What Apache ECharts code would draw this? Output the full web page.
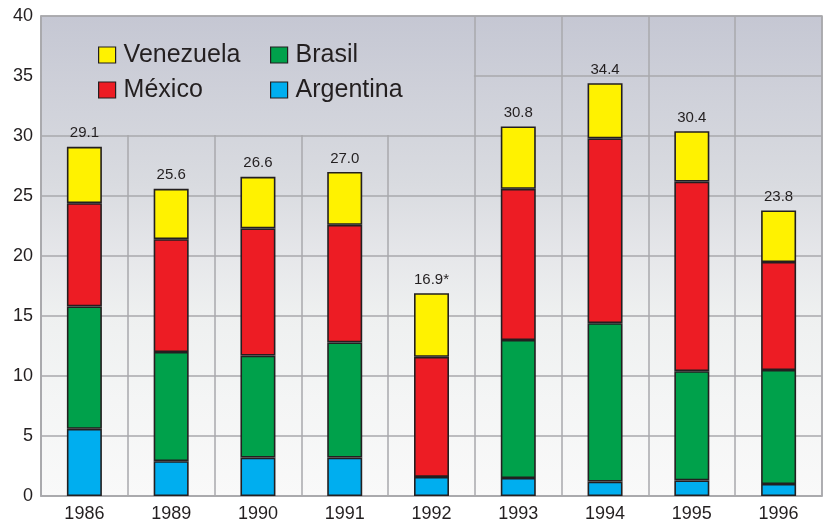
<!DOCTYPE html>
<html>
<head>
<meta charset="utf-8">
<title>Inversión por país</title>
<script src="https://cdn.jsdelivr.net/npm/echarts@6/dist/echarts.min.js"></script>
<style>
  html, body { margin: 0; padding: 0; background: #ffffff; }
  #chart { width: 830px; height: 523px; }
</style>
</head>
<body>
<div id="chart"></div>
<script>
// Years on the category axis
const years = ['1986', '1989', '1990', '1991', '1992', '1993', '1994', '1995', '1996'];

// Stacked values per country (bottom to top)
const argentina = [5.6, 2.9, 3.2, 3.2, 1.6, 1.5, 1.2, 1.3, 1.0];
const brasil    = [10.2, 9.1, 8.5, 9.6, 0, 11.5, 13.2, 9.1, 9.5];
const mexico    = [8.6, 9.4, 10.6, 9.8, 10.0, 12.6, 15.4, 15.8, 9.0];
const venezuela = [4.7, 4.2, 4.3, 4.4, 5.3, 5.2, 4.6, 4.2, 4.3];

// Footnote marks appended to the total above each bar
const totalNotes = ['', '', '', '', '*', '', '', '', ''];

// Value axis ticks
const yTicks = [0, 5, 10, 15, 20, 25, 30, 35, 40];

const totals = years.map((_, i) =>
  Math.round((argentina[i] + brasil[i] + mexico[i] + venezuela[i]) * 10) / 10);

const FONT = '"Liberation Sans", Arial, sans-serif';
const INK = '#231f20';
const GRIDLINE = '#a9a9ac';

const W = 830, H = 523;
const GRID = { left: 41, right: 8, top: 16, bottom: 27 };

// Plot background: grey-blue sky at the top fading to near white at the base.
// Built in canvas coordinates so the legend panel can reuse the exact same fill.
function skyGradient() {
  return new echarts.graphic.LinearGradient(0, GRID.top, 0, H - GRID.bottom, [
    { offset: 0.00, color: '#c5c7d3' },
    { offset: 0.15, color: '#ced0d9' },
    { offset: 0.35, color: '#d9dbe0' },
    { offset: 0.50, color: '#e6e7ea' },
    { offset: 0.62, color: '#eef0f0' },
    { offset: 0.80, color: '#f4f5f5' },
    { offset: 1.00, color: '#f9f9f9' }
  ], true);
}

const chart = echarts.init(document.getElementById('chart'), null, { renderer: 'canvas' });

function barSeries(name, data, color, extra) {
  return Object.assign({
    name: name,
    type: 'bar',
    stack: 'total',
    data: data,
    barWidth: 35,
    itemStyle: { color: color, borderColor: INK, borderWidth: 1.6, borderType: 'solid', opacity: 1 },
    emphasis: { disabled: true }
  }, extra || {});
}

const legendCommon = {
  orient: 'vertical',
  icon: 'rect',
  padding: 0,
  itemWidth: 17,
  itemHeight: 16,
  itemGap: 9,
  selectedMode: false,
  itemStyle: { borderColor: INK, borderWidth: 1.2 },
  textStyle: { fontFamily: FONT, fontSize: 25, color: INK, lineHeight: 26, padding: [0, 0, 0, 3] }
};

const option = {
  backgroundColor: '#ffffff',
  animation: false,
  grid: {
    left: GRID.left, right: GRID.right, top: GRID.top, bottom: GRID.bottom,
    show: true,
    backgroundColor: skyGradient(),
    borderColor: GRIDLINE,
    borderWidth: 1.5
  },
  legend: [
    Object.assign({ left: 98, top: 42, data: ['Venezuela', 'México'] }, legendCommon),
    Object.assign({ left: 270, top: 42, data: ['Brasil', 'Argentina'] }, legendCommon)
  ],
  xAxis: {
    type: 'category',
    data: years,
    boundaryGap: true,
    axisLine: { show: true, lineStyle: { color: GRIDLINE, width: 1.5 } },
    axisTick: { show: false },
    axisLabel: { fontFamily: FONT, fontSize: 18, color: INK, margin: 9 },
    splitLine: { show: true, lineStyle: { color: GRIDLINE, width: 1.5 } }
  },
  yAxis: {
    type: 'value',
    min: 0,
    max: 40,
    interval: 5,
    axisLine: { show: true, lineStyle: { color: GRIDLINE, width: 1.5 } },
    axisTick: { show: false },
    axisLabel: {
      fontFamily: FONT, fontSize: 18, color: INK, margin: 8,
      formatter: v => (yTicks.indexOf(v) >= 0 ? String(v) : '')
    },
    splitLine: { show: true, lineStyle: { color: GRIDLINE, width: 1.5 } }
  },
  series: [
    barSeries('Argentina', argentina, '#00aeef'),
    barSeries('Brasil', brasil, '#00a14b'),
    barSeries('México', mexico, '#ed1c24'),
    barSeries('Venezuela', venezuela, '#fff200', {
      label: {
        show: true,
        position: 'top',
        distance: 6,
        fontFamily: FONT,
        fontSize: 15,
        color: INK,
        formatter: p => totals[p.dataIndex].toFixed(1) + totalNotes[p.dataIndex]
      }
    })
  ]
};

chart.setOption(option);

// Clear panel behind the legend: the upper band of the first five years carries no grid
function drawLegendPanel() {
  const x0 = chart.convertToPixel({ xAxisIndex: 0 }, years[0]);
  const x1 = chart.convertToPixel({ xAxisIndex: 0 }, years[1]);
  const step = x1 - x0;
  const left = x0 - step / 2 + 1;
  const right = chart.convertToPixel({ xAxisIndex: 0 }, years[4]) + step / 2 - 1;
  const top = chart.convertToPixel({ yAxisIndex: 0 }, 40) + 1;
  const bottom = chart.convertToPixel({ yAxisIndex: 0 }, 30) - 1;
  chart.setOption({
    graphic: [{
      type: 'rect',
      z: 1,
      silent: true,
      shape: { x: left, y: top, width: right - left, height: bottom - top },
      style: { fill: skyGradient() }
    }]
  });
}
drawLegendPanel();
</script>
</body>
</html>
